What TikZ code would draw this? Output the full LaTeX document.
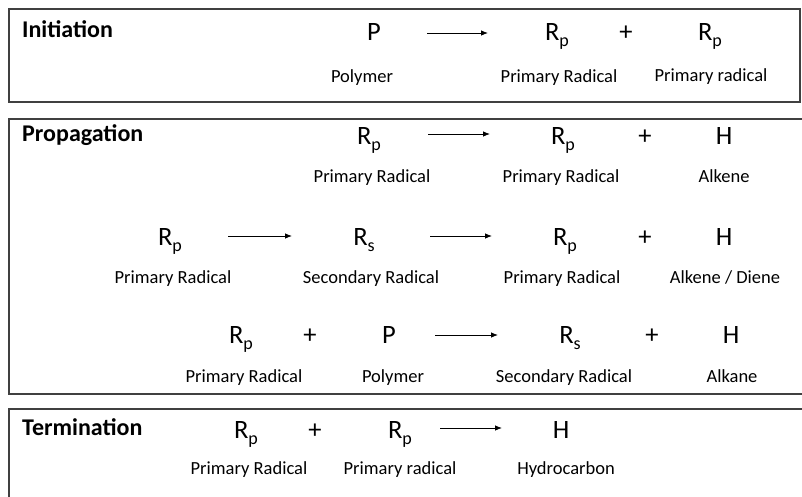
\documentclass[tikz,border=0pt]{standalone}
\usepackage{fontspec}
\setmainfont{Carlito}
\usepackage{tikz}
\usetikzlibrary{arrows.meta, positioning}

\newcommand{\radR}[1]{R\raisebox{-6pt}{\fontsize{18}{18}\selectfont #1}}

\begin{document}
\begin{tikzpicture}[
    x=1pt, y=-1pt,
    >={Latex[length=7pt, width=5.5pt]},
    % Styles
    species/.style={inner sep=0pt, anchor=base, font=\fontsize{26.5}{30}\selectfont},
    caption/.style={inner sep=0pt, anchor=base, font=\fontsize{18.5}{22}\selectfont},
    stage/.style={inner sep=0pt, anchor=base west, font=\fontsize{24}{28}\selectfont\bfseries},
    stagebox/.style={draw=black!75, line width=1.6pt},
    rxn/.style={->, line width=0.8pt}
]
\useasboundingbox (0,0) rectangle (802,496);
\clip (0,0) rectangle (802,496);

% --- Stage boxes ---
\draw[stagebox] (9,9) rectangle (800,102);
\draw[stagebox] (9,119) rectangle (812,394);
\draw[stagebox] (9,409) rectangle (812,510);

% --- Initiation ---
\node[stage] (init) at (22,37) {Initiation};
\node[species] (iP) at (374,40) {P};
\node[species] (iRp1) at (557,40) {\radR{p}};
\node[species] (iplus) at (626,40) {+};
\node[species] (iRp2) at (710,40) {\radR{p}};
\node[caption] (iPlab) at (362,82) {Polymer};
\node[caption] (iRp1lab) at (559,82) {Primary Radical};
\node[caption] (iRp2lab) at (711,81) {Primary radical};
\coordinate (ia1) at (427,33);
\coordinate (ia2) at (488,33);
\draw[rxn] (ia1) -- (ia2);

% --- Propagation ---
\node[stage] (prop) at (22,141) {Propagation};

% first reaction
\node[species] (pRa) at (369,144) {\radR{p}};
\node[species] (pRb) at (563,144) {\radR{p}};
\node[species] (pplusa) at (645,144) {+};
\node[species] (pHa) at (724,144) {H};
\node[caption] (pRalab) at (372,182) {Primary Radical};
\node[caption] (pRblab) at (561,182) {Primary Radical};
\node[caption] (pHalab) at (724,182) {Alkene};
\coordinate (pa1) at (428,134);
\coordinate (pa2) at (490,134);
\draw[rxn] (pa1) -- (pa2);

% second reaction
\node[species] (pRc) at (170,245) {\radR{p}};
\node[species] (pRd) at (364,245) {\radR{s}};
\node[species] (pRe) at (565,245) {\radR{p}};
\node[species] (pplusb) at (645,245) {+};
\node[species] (pHb) at (724,245) {H};
\node[caption] (pRclab) at (173,283) {Primary Radical};
\node[caption] (pRdlab) at (371,283) {Secondary Radical};
\node[caption] (pRelab) at (562,283) {Primary Radical};
\node[caption] (pHblab) at (725,283) {Alkene / Diene};
\coordinate (pb1) at (228,236);
\coordinate (pb2) at (292,236);
\coordinate (pb3) at (430,236);
\coordinate (pb4) at (492,236);
\draw[rxn] (pb1) -- (pb2);
\draw[rxn] (pb3) -- (pb4);

% third reaction
\node[species] (pRf) at (241,343) {\radR{p}};
\node[species] (pplusc) at (310,343) {+};
\node[species] (pP) at (389,343) {P};
\node[species] (pRg) at (570,343) {\radR{s}};
\node[species] (pplusd) at (652,343) {+};
\node[species] (pHc) at (731,343) {H};
\node[caption] (pRflab) at (244,382) {Primary Radical};
\node[caption] (pPlab) at (393,382) {Polymer};
\node[caption] (pRglab) at (564,382) {Secondary Radical};
\node[caption] (pHclab) at (732,382) {Alkane};
\coordinate (pc1) at (435,335);
\coordinate (pc2) at (498,335);
\draw[rxn] (pc1) -- (pc2);

% --- Termination ---
\node[stage] (term) at (22,435) {Termination};
\node[species] (tRa) at (246,438) {\radR{p}};
\node[species] (tplus) at (315,438) {+};
\node[species] (tRb) at (400,438) {\radR{p}};
\node[species] (tH) at (561,438) {H};
\node[caption] (tRalab) at (249,474) {Primary Radical};
\node[caption] (tRblab) at (400,474) {Primary radical};
\node[caption] (tHlab) at (566,474) {Hydrocarbon};
\coordinate (ta1) at (440,428);
\coordinate (ta2) at (502,428);
\draw[rxn] (ta1) -- (ta2);

\end{tikzpicture}
\end{document}
